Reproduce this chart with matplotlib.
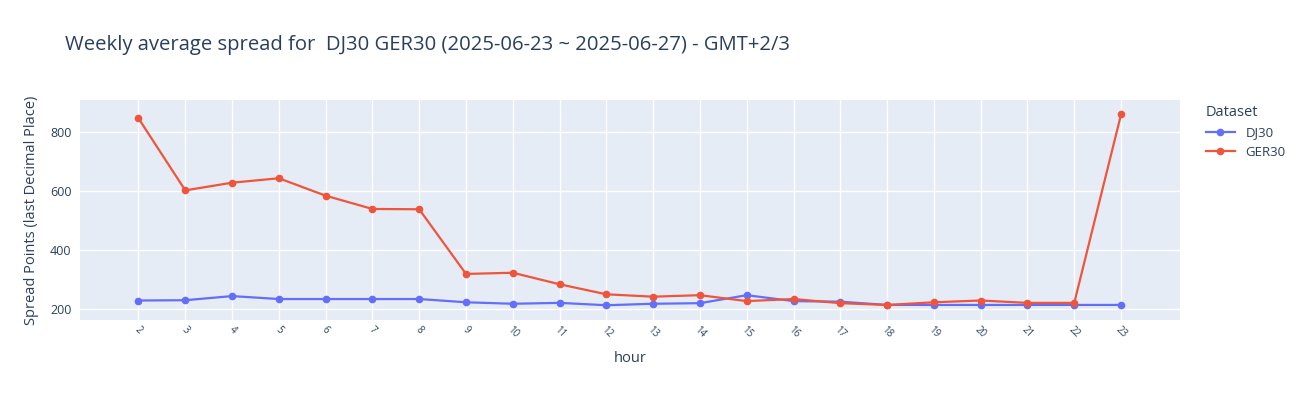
import matplotlib
matplotlib.use("Agg")
import matplotlib.pyplot as plt

hours = [str(h) for h in range(2, 24)]
dj30 = [230, 231, 245, 235, 235, 235, 235, 224, 219, 222, 214, 219, 221, 248,
        228, 226, 215, 215, 215, 215, 215, 215]
ger30 = [847, 603, 629, 644, 585, 540, 539, 320, 324, 285, 251, 243, 248, 228,
         235, 221, 215, 224, 230, 222, 222, 860]

title = "Weekly average spread for  DJ30 GER30 (2025-06-23 ~ 2025-06-27) - GMT+2/3"
text_color = "#2a3f5f"
plt.rcParams['font.family'] = ['Open Sans', 'DejaVu Sans']

fig = plt.figure(figsize=(13, 4), dpi=100)
ax = fig.add_axes([80/1300, 80/400, 1100/1300, 220/400])
ax.set_facecolor("#E5ECF6")
x = list(range(len(hours)))
ax.plot(x, dj30, color="#636efa", lw=1.6, marker="o", ms=4.5, label="DJ30", zorder=3)
ax.plot(x, ger30, color="#EF553B", lw=1.6, marker="o", ms=4.5, label="GER30", zorder=3)

ax.set_xlim(-1.25, len(hours) - 1 + 1.26)
ax.set_ylim(164, 909)
ax.set_yticks([200, 400, 600, 800])
ax.set_xticks(x)
ax.set_xticklabels(hours, rotation=-45, ha="center", va="top", fontsize=7, color=text_color)
ax.tick_params(axis="y", labelsize=9, colors=text_color, length=0, pad=6)
ax.tick_params(axis="x", length=0, pad=3)
ax.grid(True, color="white", lw=1)
ax.set_axisbelow(True)
for s in ax.spines.values():
    s.set_visible(False)

ax.set_xlabel("hour", fontsize=10.5, color=text_color, labelpad=8)
ax.set_ylabel("Spread Points (last Decimal Place)", fontsize=10.5, color=text_color, labelpad=8)
fig.text(65/1300, 1 - 45/400, title, fontsize=14.6, color=text_color, va="center", ha="left")

leg = ax.legend(title="Dataset", loc="upper left", bbox_to_anchor=(1.015, 1.02),
                frameon=False, fontsize=9.5, title_fontsize=10.5, handlelength=2.2,
                labelspacing=0.5, alignment="left", borderaxespad=0.3)
for t in leg.get_texts():
    t.set_color(text_color)
leg.get_title().set_color(text_color)

fig.savefig("out.png", dpi=100)
